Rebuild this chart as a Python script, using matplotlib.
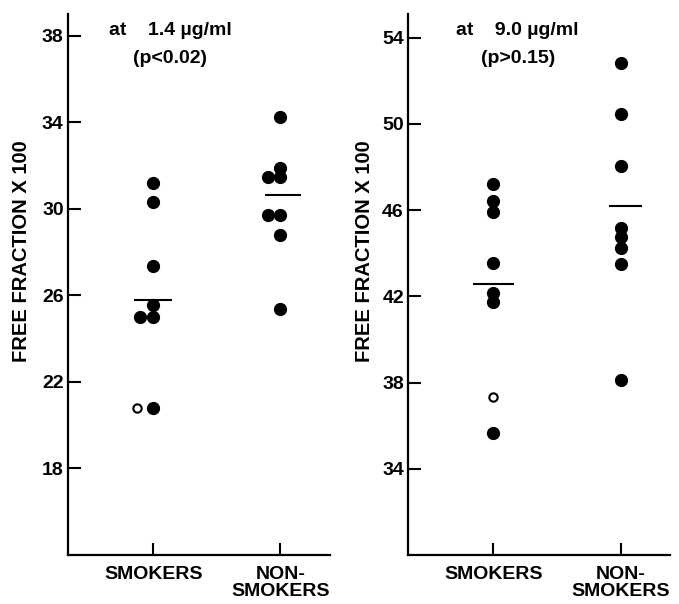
import matplotlib.pyplot as plt

plt.rcParams['font.family'] = ['Liberation Sans', 'DejaVu Sans']

groups = ["SMOKERS", "NON-\nSMOKERS"]

# 1.4 ug/ml panel
low_smokers = [31.2, 30.3, 27.35, 25.55, 25.0, 25.0, 20.8]
low_smokers_dx = [0, 0, 0, 0, -0.1, 0, 0]
low_smokers_open = [20.8]
low_non = [34.25, 31.9, 31.45, 31.45, 29.7, 29.7, 28.8, 25.35]
low_non_dx = [0, 0, -0.1, 0, -0.1, 0, 0, 0]
low_means = [25.78, 30.65]

# 9.0 ug/ml panel
high_smokers = [47.2, 46.4, 45.9, 43.55, 42.15, 41.75, 35.65]
high_smokers_open = [37.35]
high_non = [52.8, 50.45, 48.05, 45.15, 44.75, 44.25, 43.5, 38.1]
high_means = [42.55, 46.18]

fig = plt.figure(figsize=(6.79, 6.04), dpi=100)
ax1 = fig.add_axes([0.100, 0.081, 0.386, 0.896])
ax2 = fig.add_axes([0.601, 0.081, 0.386, 0.896])


def style(ax, ylim, yticks):
    ax.set_xlim(0.33, 2.39)
    ax.set_ylim(*ylim)
    ax.set_yticks(yticks)
    ax.set_xticks([1, 2])
    ax.set_xticklabels(groups, fontsize=14, weight='bold', linespacing=1.0)
    ax.tick_params(axis='both', direction='in', length=9, width=1.5, color='black')
    ax.tick_params(axis='y', labelsize=14, pad=3)
    ax.tick_params(axis='x', pad=8)
    for t in ax.get_yticklabels():
        t.set_fontweight('bold')
    for s in ['top', 'right']:
        ax.spines[s].set_visible(False)
    for s in ['left', 'bottom']:
        ax.spines[s].set_linewidth(1.6)


style(ax1, (14, 39), [18, 22, 26, 30, 34, 38])
style(ax2, (30, 55.1), [34, 38, 42, 46, 50, 54])

# left panel
ax1.plot([1 + d for d in low_smokers_dx], low_smokers, 'o', color='black', ms=8.5)
ax1.plot([1 - 0.125] * len(low_smokers_open), low_smokers_open, 'o', mfc='white',
         mec='black', mew=1.5, ms=6)
ax1.plot([2 + d for d in low_non_dx], low_non, 'o', color='black', ms=8.5)
ax1.hlines(low_means[0], 0.85, 1.15, color='black', lw=1.5)
ax1.hlines(low_means[1], 1.88, 2.16, color='black', lw=1.5)
ax1.text(0.39, 0.969, "at    1.4 µg/ml", transform=ax1.transAxes, ha='center',
         va='center', fontsize=14, weight='bold')
ax1.text(0.39, 0.917, "(p<0.02)", transform=ax1.transAxes, ha='center',
         va='center', fontsize=14, weight='bold')

# right panel
ax2.plot([1] * len(high_smokers), high_smokers, 'o', color='black', ms=8.5)
ax2.plot([1] * len(high_smokers_open), high_smokers_open, 'o', mfc='white',
         mec='black', mew=1.5, ms=6)
ax2.plot([2] * len(high_non), high_non, 'o', color='black', ms=8.5)
ax2.hlines(high_means[0], 0.84, 1.16, color='black', lw=1.5)
ax2.hlines(high_means[1], 1.91, 2.17, color='black', lw=1.5)
ax2.text(0.416, 0.969, "at    9.0 µg/ml", transform=ax2.transAxes, ha='center',
         va='center', fontsize=14, weight='bold')
ax2.text(0.418, 0.917, "(p>0.15)", transform=ax2.transAxes, ha='center',
         va='center', fontsize=14, weight='bold')

fig.text(22 / 679, 0.584, "FREE FRACTION X 100", rotation=90, ha='center',
         va='center', fontsize=14.5, weight='bold')
fig.text(365 / 679, 0.584, "FREE FRACTION X 100", rotation=90, ha='center',
         va='center', fontsize=14.5, weight='bold')

plt.savefig("out.png", dpi=100)
